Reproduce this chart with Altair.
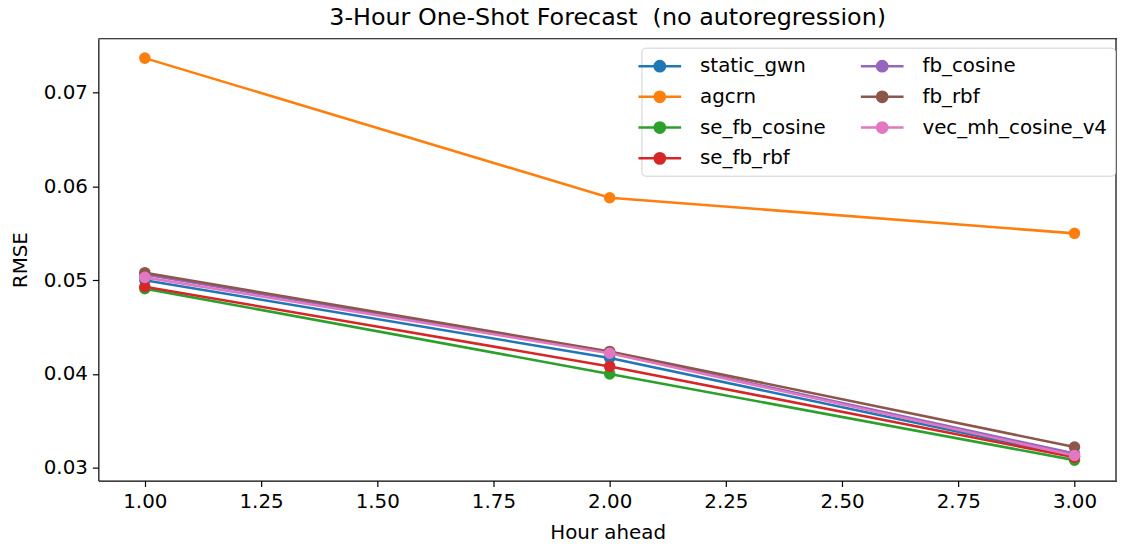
import altair as alt
import pandas as pd

hours = [1, 2, 3]
series_names = ["static_gwn", "agcrn", "se_fb_cosine", "se_fb_rbf", "fb_cosine", "fb_rbf", "vec_mh_cosine_v4"]
static_gwn = [0.0500, 0.0417, 0.0312]
agcrn = [0.0737, 0.0588, 0.0550]
se_fb_cosine = [0.0491, 0.0400, 0.0308]
se_fb_rbf = [0.0493, 0.0408, 0.0311]
fb_cosine = [0.0506, 0.0423, 0.0315]
fb_rbf = [0.0508, 0.0424, 0.0322]
vec_mh_cosine_v4 = [0.0503, 0.0422, 0.0313]
colors = ["#1f77b4", "#ff7f0e", "#2ca02c", "#d62728", "#9467bd", "#8c564b", "#e377c2"]
x_ticks = [1.0, 1.25, 1.5, 1.75, 2.0, 2.25, 2.5, 2.75, 3.0]
y_ticks = [0.03, 0.04, 0.05, 0.06, 0.07]

values = [static_gwn, agcrn, se_fb_cosine, se_fb_rbf, fb_cosine, fb_rbf, vec_mh_cosine_v4]
rows = []
for i, (name, vals) in enumerate(zip(series_names, values)):
    for h, v in zip(hours, vals):
        rows.append({"series": name, "order": i, "hour": h, "rmse": v})
df = pd.DataFrame(rows)

FONT = "DejaVu Sans"
W, H = 1026, 445

# the reference axes are cropped at the right edge of the image
xenc = alt.X("hour:Q", title="Hour ahead",
             scale=alt.Scale(domain=[0.9, 3.0914], nice=False, zero=False),
             axis=alt.Axis(values=x_ticks, format=".2f", grid=False))
yenc = alt.Y("rmse:Q", title="RMSE",
             scale=alt.Scale(domain=[0.02862, 0.07577], nice=False, zero=False),
             axis=alt.Axis(values=y_ticks, format=".2f", grid=False))

sym = "M-2.15,0L2.15,0M0.52,0A0.52,0.52,0,1,1,-0.52,0A0.52,0.52,0,1,1,0.52,0Z"

leg = alt.Legend(title=None, columns=2, orient="none", legendX=547, legendY=9)

lines = alt.Chart(df).mark_line(strokeWidth=2.6).encode(
    x=xenc, y=yenc,
    stroke=alt.Stroke("series:N", scale=alt.Scale(domain=series_names, range=colors), legend=leg),
    detail="series:N",
    order="order:Q",
)

points = alt.Chart(df).mark_point(filled=True, size=135, opacity=1, shape="circle").encode(
    x=xenc, y=yenc,
    fill=alt.Fill("series:N", scale=alt.Scale(domain=series_names, range=colors), legend=leg),
)

frame_df = pd.DataFrame({"a": [0]})
top_frame = alt.Chart(frame_df).mark_rule(color="black", strokeWidth=1.2).encode(
    x=alt.value(0), x2=alt.value(W + 10), y=alt.value(0)
)
right_frame = alt.Chart(frame_df).mark_rule(color="black", strokeWidth=1.2).encode(
    x=alt.value(W - 1), y=alt.value(0), y2=alt.value(H)
)

chart = alt.layer(lines, points, top_frame, right_frame).properties(
    width=W, height=H,
    title=alt.TitleParams("3-Hour One-Shot Forecast \u00a0(no autoregression)",
                          fontSize=24, font=FONT, fontWeight="normal", color="black", offset=8),
    autosize=alt.AutoSizeParams(type="none"),
    padding={"left": 91, "top": 29, "right": 0, "bottom": 65},
).configure_view(
    stroke=None
).configure_axis(
    labelFont=FONT, titleFont=FONT, labelFontSize=20, titleFontSize=20,
    labelColor="black", titleColor="black", tickColor="black", domainColor="black",
    tickSize=6, domainWidth=1.2, tickWidth=1.2, titleFontWeight="normal",
    labelPadding=5,
).configure_axisY(titlePadding=13).configure_axisX(titlePadding=11).configure_legend(
    labelFont=FONT, labelFontSize=20, labelColor="black", labelLimit=400,
    fillColor="white", strokeColor="#d0d0d0", cornerRadius=4,
    padding=7, symbolType=sym, symbolSize=400, symbolStrokeWidth=2.5,
    rowPadding=9, columnPadding=30, labelOffset=29,
)

chart.save("out.html", embed_options={"renderer": "svg", "actions": False})
